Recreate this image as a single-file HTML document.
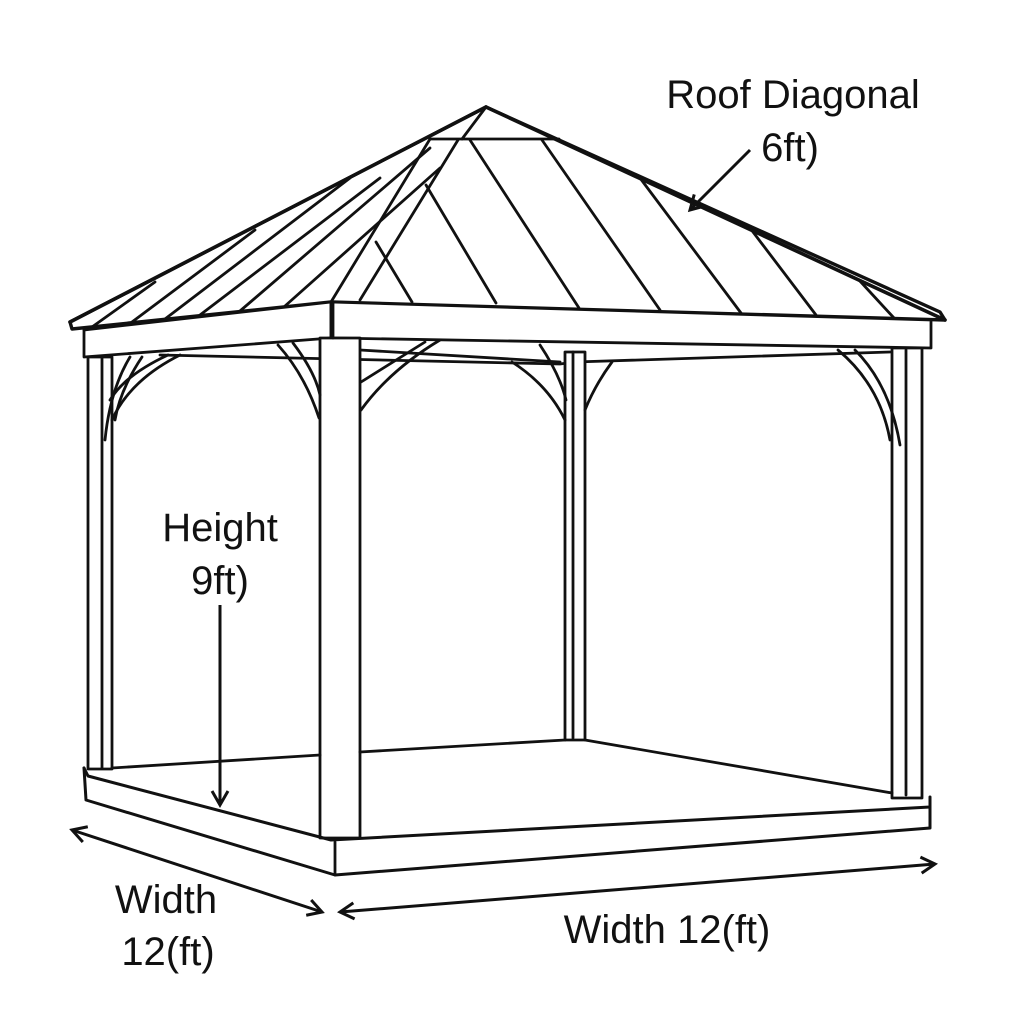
<!DOCTYPE html>
<html><head><meta charset="utf-8"><style>
html,body{margin:0;padding:0;background:#fff;}
svg{display:block;}
text{font-family:"Liberation Sans","DejaVu Sans",sans-serif;fill:#111;}
</style></head><body>
<svg width="1024" height="1024" viewBox="0 0 1024 1024" xmlns="http://www.w3.org/2000/svg">
<defs>
<marker id="ah" markerWidth="20" markerHeight="20" refX="16" refY="10" orient="auto-start-reverse" markerUnits="userSpaceOnUse">
<path d="M2,2 L16,10 L2,18" fill="none" stroke="#111" stroke-width="3"/>
</marker>
</defs>
<g fill="none" stroke="#111" stroke-width="2.8" stroke-linejoin="round" stroke-linecap="round">
<!-- roof outline -->
<path d="M486,107 L70,322 L72,329 L331,302 L945,320 L940,312 Z" fill="#fff" stroke-width="3.4"/>
<path d="M486,107 L945,320" stroke-width="3.6"/>
<path d="M486,107 L70,322" stroke-width="3.6"/>
<!-- cap -->
<path d="M430,139 L559,139"/>
<path d="M486,107 L462,139"/>
<!-- front-left hip (double) -->
<path d="M430,139 L331,302"/>
<path d="M458,140 L360,300"/>
<!-- front face panels -->
<path d="M470,140 L579,308"/>
<path d="M542,140 L660,310"/>
<path d="M640,178 L741,313"/>
<path d="M750,228 L816,315"/>
<path d="M859,280 L894,318"/>
<path d="M426,185 L496,303"/>
<path d="M376,242 L412,302"/>
<!-- left face panels -->
<path d="M92,327 L155,282"/>
<path d="M132,322 L255,230"/>
<path d="M165,319 L350,178"/>
<path d="M200,315 L380,178"/>
<path d="M240,311 L430,148"/>
<path d="M285,306 L440,168"/>
<!-- fascia -->
<path d="M331,302 L331,338 L84,357 L84,330" fill="#fff"/>
<path d="M331,302 L931,320 L931,348 L331,338 Z" fill="#fff"/>
<path d="M84,330 L331,302"/>
<!-- back beam -->
<path d="M160,355 L560,364 L575,362 L890,352"/>
<path d="M360,350 L560,362"/>
<!-- posts -->
<rect x="320" y="338" width="40" height="500" fill="#fff"/>
<path d="M333,338 L333,303"/>
<rect x="88" y="357" width="24" height="412" fill="#fff"/>
<path d="M102,358 L102,768"/>
<rect x="565" y="352" width="20" height="388" fill="#fff"/>
<path d="M573,352 L573,738"/>
<rect x="892" y="348" width="30" height="450" fill="#fff"/>
<path d="M906,350 L906,795"/>
<!-- braces -->
<path d="M130,357 Q110,390 105,440"/>
<path d="M142,357 Q120,390 115,420"/>
<path d="M180,355 Q130,380 112,420"/>
<path d="M168,355 Q125,375 110,400"/>
<path d="M278,345 Q305,375 319,418"/>
<path d="M293,343 Q315,372 320,395"/>
<path d="M440,340 Q390,370 361,410"/>
<path d="M425,342 Q380,370 361,382"/>
<path d="M512,362 Q548,385 565,420"/>
<path d="M540,345 Q560,375 566,400"/>
<path d="M612,362 Q595,385 585,410"/>
<path d="M838,350 Q880,385 890,440"/>
<path d="M855,350 Q890,385 900,445"/>
<!-- floor -->
<path d="M84,768 L88,776 L331,840 L930,807 L930,797" stroke-width="3"/>
<path d="M84,768 L86,800 L335,875 L930,828 L930,805" fill="none" stroke-width="3"/>
<path d="M335,842 L335,875"/>
<path d="M112,768 L320,755"/>
<path d="M360,752 L565,740"/>
<path d="M585,740 L892,793"/>
</g>
<!-- dimension arrows -->
<g stroke="#111" stroke-width="3" fill="none">
<line x1="72" y1="830" x2="322" y2="912" marker-start="url(#ah)" marker-end="url(#ah)"/>
<line x1="340" y1="912" x2="935" y2="864" marker-start="url(#ah)" marker-end="url(#ah)"/>
<line x1="220" y1="605" x2="220" y2="805" marker-end="url(#ah)"/>
<line x1="750" y1="150" x2="690" y2="210" marker-end="url(#ah)"/>
</g>
<!-- labels -->
<g font-size="40" text-anchor="middle">
<text x="793" y="108">Roof Diagonal</text>
<text x="790" y="161">6ft)</text>
<text x="220" y="541">Height</text>
<text x="220" y="594">9ft)</text>
<text x="166" y="913">Width</text>
<text x="168" y="965">12(ft)</text>
<text x="667" y="943">Width 12(ft)</text>
</g>
</svg>
</body></html>
